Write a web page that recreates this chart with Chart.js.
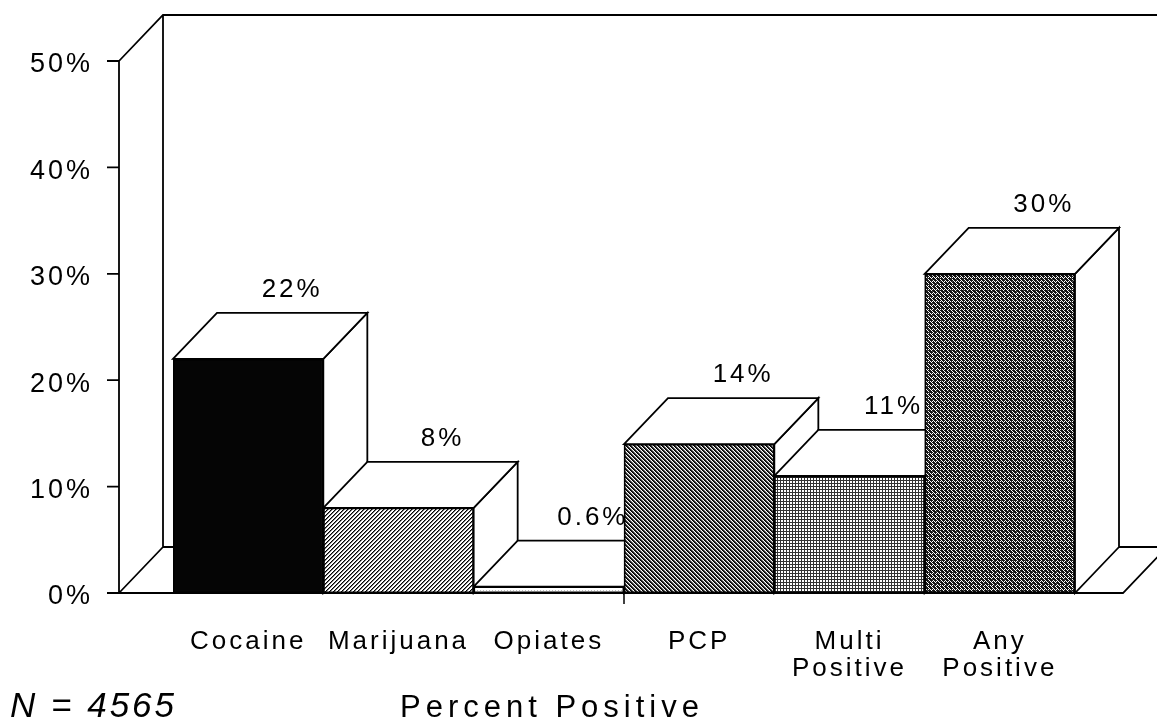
<!DOCTYPE html>
<html><head><meta charset="utf-8">
<script src="https://cdn.jsdelivr.net/npm/chart.js@4.4.1/dist/chart.umd.min.js"></script>
<style>html,body{margin:0;padding:0;background:#fff}#wrap{width:1157px;height:726px;position:relative}</style>
</head><body><div id="wrap"><canvas id="c" width="1157" height="726"></canvas></div>
<script>
const categories = ['Cocaine', 'Marijuana', 'Opiates', 'PCP', ['Multi', 'Positive'], ['Any', 'Positive']];
const percentPositive = [22, 8, 0.6, 14, 11, 30];
const valueLabels = ['22%', '8%', '0.6%', '14%', '11%', '30%'];
const yTickValues = [0, 10, 20, 30, 40, 50];
const sampleNote = 'N = 4565';
const chartTitle = 'Percent Positive';
const fillKinds = ['solid', 'slash', 'light', 'backslash', 'grid', 'stipple'];

const DX = 44, DY = -46;
const FONT = '"Liberation Sans", Arial, Helvetica, sans-serif';

function makePattern(kind) {
  if (kind === 'solid') return '#050505';
  const c = document.createElement('canvas');
  const n = 12; c.width = n; c.height = n;
  const g = c.getContext('2d');
  g.fillStyle = '#fff'; g.fillRect(0, 0, n, n);
  for (let x = 0; x < n; x++) for (let y = 0; y < n; y++) {
    let col = null;
    if (kind === 'slash') { const k = (x + y) % 4; if (k === 0) col = '#000'; else if (k === 1) col = '#777'; }
    else if (kind === 'backslash') { const k = ((x - y) % 4 + 4) % 4; if (k === 0) col = '#000'; else if (k === 1) col = '#222'; else if (k === 2) col = '#888'; }
    else if (kind === 'grid') { if (x % 3 === 0 || y % 3 === 0) col = '#333'; }
    else if (kind === 'stipple') {
      const m = [[1,0,1,1],[0,1,0,1],[1,1,1,0],[0,1,1,1]];
      if (m[y % 4][x % 4]) col = '#151515'; else if ((x + 2 * y) % 7 === 0) col = '#555';
    }
    else if (kind === 'light') { if (y % 4 === 2 && x % 3 === 0) col = '#bbb'; }
    if (col) { g.fillStyle = col; g.fillRect(x, y, 1, 1); }
  }
  return g.createPattern(c, 'repeat');
}

const box3d = {
  id: 'box3d',
  beforeDraw(chart) { chart.ctx.letterSpacing = '3px'; },
  beforeDatasetsDraw(chart) {
    const { ctx, chartArea: a, scales: { y } } = chart;
    const meta = chart.getDatasetMeta(0);
    const y0 = y.getPixelForValue(0), yTop = y.getPixelForValue(50);
    const axisX = a.left - 54;
    const last = meta.data[meta.data.length - 1];
    const floorRight = last.x + last.width / 2 + 48;
    ctx.save();
    ctx.strokeStyle = '#000'; ctx.lineWidth = 1.8; ctx.lineJoin = 'miter';
    ctx.beginPath();
    ctx.moveTo(axisX, yTop); ctx.lineTo(axisX + DX, yTop + DY); ctx.lineTo(chart.width, yTop + DY);
    ctx.moveTo(axisX + DX, yTop + DY); ctx.lineTo(axisX + DX, y0 + DY); ctx.lineTo(chart.width, y0 + DY);
    ctx.moveTo(axisX, yTop); ctx.lineTo(axisX, y0); ctx.lineTo(floorRight, y0); ctx.lineTo(floorRight + DX, y0 + DY);
    ctx.moveTo(axisX, y0); ctx.lineTo(axisX + DX, y0 + DY);
    yTickValues.forEach(v => { const p = y.getPixelForValue(v); ctx.moveTo(axisX - 12, p); ctx.lineTo(axisX, p); });
    ctx.stroke();
    meta.data.forEach((el, i) => {
      const x0 = el.x - el.width / 2, x1 = el.x + el.width / 2, t = el.y, b = el.base;
      ctx.fillStyle = '#fff';
      ctx.beginPath();
      ctx.moveTo(x1, t); ctx.lineTo(x1 + DX, t + DY); ctx.lineTo(x1 + DX, b + DY); ctx.lineTo(x1, b); ctx.closePath();
      ctx.fill(); ctx.stroke();
      ctx.beginPath();
      ctx.moveTo(x0, t); ctx.lineTo(x0 + DX, t + DY); ctx.lineTo(x1 + DX, t + DY); ctx.lineTo(x1, t); ctx.closePath();
      ctx.fill(); ctx.stroke();
      ctx.fillStyle = '#000';
      ctx.font = '26px ' + FONT;
      ctx.textAlign = 'center'; ctx.textBaseline = 'middle';
      ctx.fillText(valueLabels[i], (x0 + x1) / 2 + DX, t + DY - 23);
    });
    ctx.restore();
  },
  afterDraw(chart) {
    const { ctx, scales: { y } } = chart;
    const meta = chart.getDatasetMeta(0);
    const y0 = y.getPixelForValue(0);
    ctx.save();
    ctx.strokeStyle = '#000'; ctx.lineWidth = 1.5;
    const mid = (meta.data[2].x + meta.data[3].x) / 2;
    ctx.beginPath(); ctx.moveTo(mid, y0); ctx.lineTo(mid, y0 + 11); ctx.stroke();
    ctx.fillStyle = '#000'; ctx.textBaseline = 'alphabetic'; ctx.textAlign = 'left';
    ctx.letterSpacing = '3px';
    ctx.font = 'italic 35px ' + FONT;
    ctx.fillText(sampleNote, 10, 717);
    ctx.letterSpacing = '5px';
    ctx.font = '31px ' + FONT;
    ctx.fillText(chartTitle, 400, 717);
    ctx.restore();
  }
};

Chart.defaults.font.family = FONT;
Chart.defaults.color = '#000';

new Chart(document.getElementById('c'), {
  type: 'bar',
  data: {
    labels: categories,
    datasets: [{
      data: percentPositive,
      backgroundColor: fillKinds.map(makePattern),
      borderColor: '#000',
      borderWidth: 1.8,
      borderSkipped: false,
      barPercentage: 1,
      categoryPercentage: 1
    }]
  },
  options: {
    responsive: false,
    devicePixelRatio: 1,
    animation: false,
    layout: { padding: { top: 61, right: 82, bottom: 0, left: 0 } },
    plugins: { legend: { display: false }, tooltip: { enabled: false } },
    scales: {
      x: {
        grid: { display: false }, border: { display: false },
        ticks: { font: { size: 26, lineHeight: 1.05 }, padding: 27, maxRotation: 0, autoSkip: false, color: '#000' },
        afterFit(s) { s.height = 133; }
      },
      y: {
        min: 0, max: 50,
        grid: { display: false }, border: { display: false },
        ticks: { stepSize: 10, font: { size: 27 }, padding: 72, labelOffset: 4, color: '#000', callback: v => v + '%' },
        afterFit(s) { s.width = 173; s.paddingTop = 16; s.paddingBottom = 16; }
      }
    }
  },
  plugins: [box3d]
});
</script>
</body></html>
